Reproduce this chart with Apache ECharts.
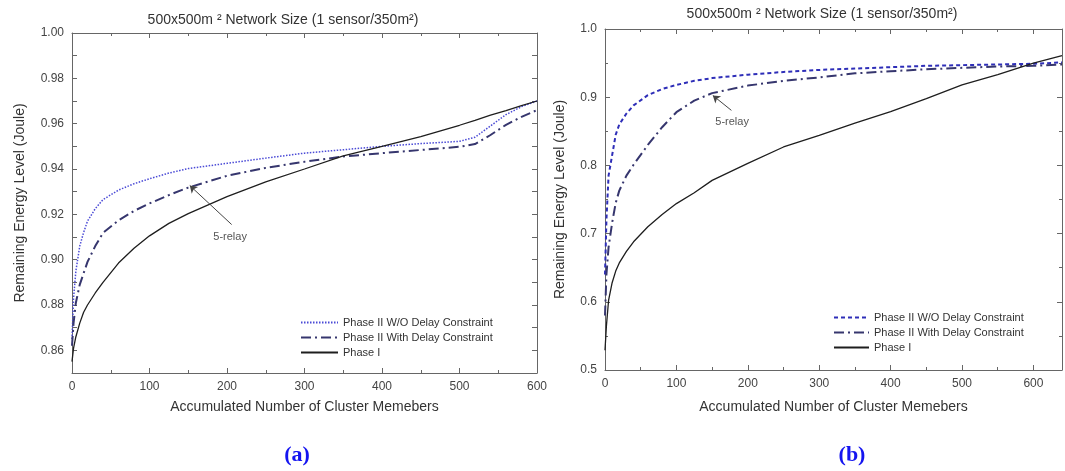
<!DOCTYPE html>
<html>
<head>
<meta charset="utf-8">
<script src="https://cdn.jsdelivr.net/npm/echarts@6/dist/echarts.min.js"></script>
<style>
  html, body { margin: 0; padding: 0; background: #fff; }
  #main { width: 1065px; height: 471px; }
</style>
</head>
<body>
<div id="main"></div>
<script>
// chart (a) data
const xA = [0, 2, 5, 10, 15, 20, 30, 40, 60, 80, 100, 125, 150, 200, 250, 300, 350, 400, 450, 500, 520, 540, 560, 580, 600];
const phase1A = [0.855, 0.861, 0.866, 0.872, 0.8768, 0.880, 0.8853, 0.890, 0.8985, 0.905, 0.9105, 0.916, 0.9203, 0.9278, 0.9343, 0.9400, 0.9458, 0.9500, 0.9543, 0.9593, 0.9615, 0.9638, 0.9658, 0.968, 0.970];
const noDelayA = [0.865, 0.883, 0.895, 0.906, 0.912, 0.917, 0.9225, 0.9265, 0.9307, 0.9335, 0.9357, 0.9382, 0.9402, 0.9425, 0.9448, 0.9470, 0.9485, 0.9500, 0.9512, 0.9522, 0.9540, 0.9590, 0.9640, 0.9675, 0.9700];
const withDelayA = [0.862, 0.872, 0.881, 0.889, 0.894, 0.899, 0.906, 0.9118, 0.9173, 0.9215, 0.9248, 0.9285, 0.9318, 0.9370, 0.9405, 0.9432, 0.9455, 0.9470, 0.9484, 0.9498, 0.9510, 0.9550, 0.9595, 0.9630, 0.9660];

// chart (b) data
const xB = [0, 2, 5, 10, 15, 20, 30, 40, 60, 80, 100, 125, 150, 200, 250, 300, 350, 400, 450, 500, 550, 600, 640];
const phase1B = [0.529, 0.565, 0.602, 0.628, 0.645, 0.657, 0.674, 0.688, 0.710, 0.728, 0.744, 0.760, 0.778, 0.803, 0.827, 0.844, 0.862, 0.879, 0.898, 0.918, 0.933, 0.950, 0.961];
const noDelayB = [0.64, 0.72, 0.785, 0.815, 0.845, 0.860, 0.876, 0.888, 0.903, 0.912, 0.918, 0.924, 0.928, 0.933, 0.937, 0.940, 0.942, 0.944, 0.946, 0.947, 0.948, 0.949, 0.951];
const withDelayB = [0.58, 0.64, 0.68, 0.716, 0.745, 0.763, 0.785, 0.801, 0.830, 0.856, 0.878, 0.895, 0.906, 0.917, 0.924, 0.929, 0.935, 0.938, 0.941, 0.943, 0.945, 0.946, 0.948];

const names = ["Phase II W/O Delay Constraint", "Phase II With Delay Constraint", "Phase I"];
// arrow annotations [tail, head] and label spot
const arrowA = [[206, 0.9155], [152, 0.9327]];
const labelA = [204, 0.9100];
const arrowB = [[177, 0.8807], [151, 0.9026]];
const labelB = [178, 0.8640];

const font = "'Liberation Sans', Arial, sans-serif";
const axisColor = "#666";
const textColor = "#444";

const pairs = (xs, ys) => xs.map((x, i) => [x, ys[i]]);

function xAxes(grid, max) {
  const base = {
    gridIndex: grid, type: "value", min: 0, max: max, interval: 100,
    axisLine: { onZero: false, lineStyle: { color: axisColor } },
    axisTick: { inside: true, length: 5, lineStyle: { color: axisColor } },
    minorTick: { show: true, splitNumber: 2, length: 3, lineStyle: { color: axisColor } },
    splitLine: { show: false }
  };
  return [
    Object.assign({}, base, {
      position: "bottom",
      axisLabel: { color: textColor, fontFamily: font, fontSize: 12, margin: 8,
        formatter: v => (v % 100 === 0 ? String(v) : "") },
      name: "Accumulated Number of Cluster Memebers", nameLocation: "middle",
      nameGap: grid === 0 ? 27 : 30,
      nameTextStyle: { color: "#333", fontFamily: font, fontSize: 14 }
    }),
    Object.assign({}, base, { position: "top", axisLabel: { show: false } })
  ];
}

function yAxes(grid, min, max, interval, fmt, minor) {
  const base = {
    gridIndex: grid, type: "value", min: min, max: max, interval: interval,
    axisLine: { show: true, onZero: false, lineStyle: { color: axisColor } },
    axisTick: { show: true, inside: true, length: 5, lineStyle: { color: axisColor } },
    minorTick: { show: minor, splitNumber: 2, length: 3, lineStyle: { color: axisColor } },
    splitLine: { show: false }
  };
  return [
    Object.assign({}, base, {
      position: "left",
      axisLabel: { color: textColor, fontFamily: font, fontSize: 12, margin: 8, formatter: fmt },
      name: "Remaining Energy Level (Joule)", nameLocation: "middle",
      nameGap: grid === 0 ? 45 : 38,
      nameTextStyle: { color: "#333", fontFamily: font, fontSize: 14 }
    }),
    Object.assign({}, base, { position: "right", axisLabel: { show: false } })
  ];
}

const xAxisA = xAxes(0, 600);
const xAxisB = xAxes(1, 640);
const yAxisA = yAxes(0, 0.85, 1.0, 0.01,
  v => (Math.round(v * 100) % 2 === 0 ? v.toFixed(2) : ""), false);
const yAxisB = yAxes(1, 0.5, 1.0, 0.1, v => v.toFixed(1), true);

function arrowMark(arrow) {
  return {
    silent: true, symbol: ["none", "arrow"], symbolSize: 7,
    label: { show: false },
    lineStyle: { color: "#444", width: 1, type: "solid" },
    data: [[{ coord: arrow[0] }, { coord: arrow[1] }]]
  };
}
function textMark(pos) {
  return {
    silent: true, symbol: "circle", symbolSize: 0,
    label: { show: true, position: "inside", formatter: "5-relay", color: "#555", fontFamily: font, fontSize: 11 },
    data: [{ coord: pos }]
  };
}

function lineSeries(name, xi, yi, data, color, width, type, extra) {
  return Object.assign({
    name: name, type: "line", xAxisIndex: xi, yAxisIndex: yi,
    data: data, showSymbol: false, symbol: "none", smooth: false,
    lineStyle: { color: color, width: width, type: type },
    itemStyle: { color: color }
  }, extra || {});
}

const blueA = "#4a4ad6", blueB = "#2e2eb8", slate = "#36366e", black = "#1e1e1e";
// chart (b) names carry a trailing space so each legend picks its own series
const namesB = names.map(n => n + " ");

const legendBase = {
  orient: "vertical", itemGap: 4, selectedMode: false,
  itemStyle: { opacity: 0, borderWidth: 0 },
  textStyle: { color: "#333", fontFamily: font, fontSize: 11 }
};

const option = {
  animation: false,
  backgroundColor: "#fff",
  grid: [
    { left: 72, top: 33, width: 465, height: 340 },
    { left: 605, top: 29, width: 459, height: 341 }
  ],
  xAxis: xAxisA.concat(xAxisB),
  yAxis: yAxisA.concat(yAxisB),
  legend: [
    Object.assign({}, legendBase, { data: names, left: 295, top: 312, itemWidth: 37, itemHeight: 11 }),
    Object.assign({}, legendBase, { data: namesB, left: 828, top: 307, itemWidth: 35, itemHeight: 12 })
  ],
  series: [
    lineSeries(names[0], 0, 0, pairs(xA, noDelayA), blueA, 1.5, [1.5, 1.5]),
    lineSeries(names[1], 0, 0, pairs(xA, withDelayA), slate, 2, [10, 4, 2, 4],
      { markLine: arrowMark(arrowA), markPoint: textMark(labelA) }),
    lineSeries(names[2], 0, 0, pairs(xA, phase1A), black, 1.3, "solid"),
    lineSeries(namesB[0], 2, 2, pairs(xB, noDelayB), blueB, 2, [4, 3]),
    lineSeries(namesB[1], 2, 2, pairs(xB, withDelayB), slate, 2, [10, 4, 2, 4],
      { markLine: arrowMark(arrowB), markPoint: textMark(labelB) }),
    lineSeries(namesB[2], 2, 2, pairs(xB, phase1B), black, 1.3, "solid")
  ],
  graphic: [
    { type: "text", x: 283, y: 20, style: { text: "500x500m \u00b2 Network Size (1 sensor/350m\u00b2)", fill: "#333", font: "14px " + font, align: "center", verticalAlign: "middle" } },
    { type: "text", x: 822, y: 14, style: { text: "500x500m \u00b2 Network Size (1 sensor/350m\u00b2)", fill: "#333", font: "14px " + font, align: "center", verticalAlign: "middle" } },
    { type: "text", x: 297, y: 455, style: { text: "(a)", fill: "#1414f0", font: "bold 22px 'Liberation Serif', 'Times New Roman', serif", align: "center", verticalAlign: "middle" } },
    { type: "text", x: 852, y: 455, style: { text: "(b)", fill: "#1414f0", font: "bold 22px 'Liberation Serif', 'Times New Roman', serif", align: "center", verticalAlign: "middle" } }
  ]
};

const chart = echarts.init(document.getElementById("main"));
chart.setOption(option);
</script>
</body>
</html>
